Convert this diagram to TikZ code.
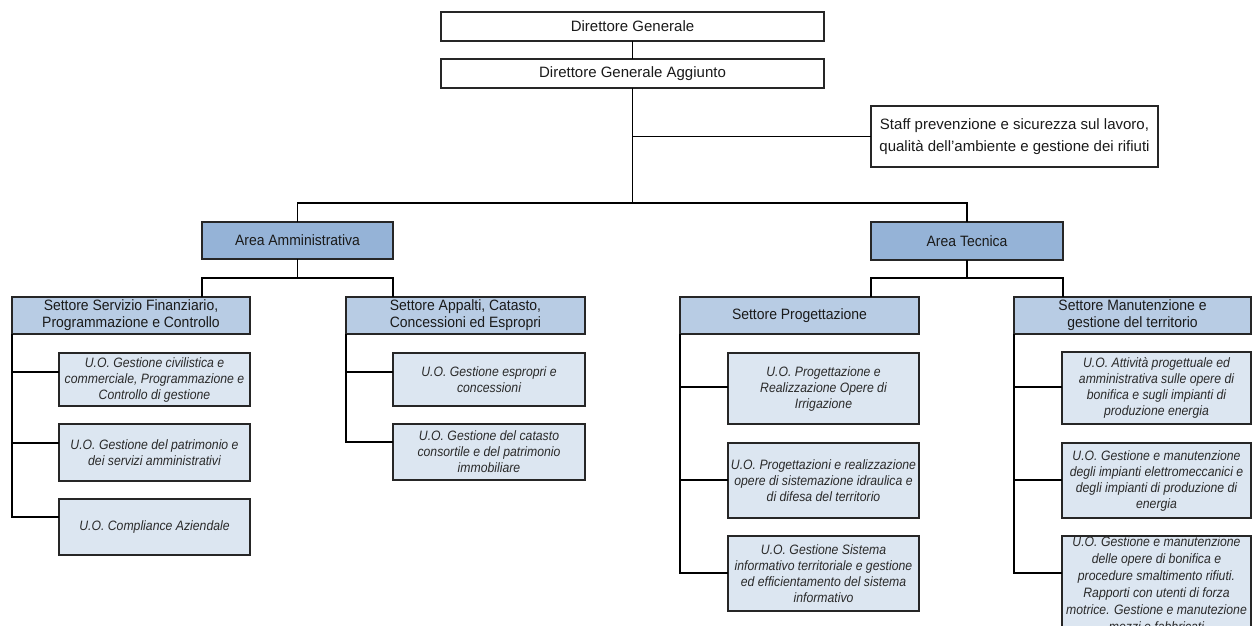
\documentclass[tikz,border=0pt]{standalone}
\usepackage{fontspec}
\setmainfont{Liberation Sans}
\newfontfamily\condA[FakeStretch=0.93]{Liberation Sans}
\newfontfamily\condB[FakeStretch=0.9]{Liberation Sans}
\definecolor{boxline}{HTML}{262626}
\definecolor{areafill}{HTML}{95B3D7}
\definecolor{settfill}{HTML}{B8CCE4}
\definecolor{uofill}{HTML}{DCE6F1}
\definecolor{txt}{HTML}{1A1A1A}
\definecolor{uotxt}{HTML}{2A2A2A}
\tikzset{
  base/.style={draw=boxline, line width=1.5pt, outer sep=0pt, inner sep=0pt, align=center, text=txt},
  topbox/.style={base, fill=white, font=\fontsize{15}{22}\selectfont},
  areabox/.style={base, fill=areafill, font=\condA\fontsize{15}{17}\selectfont},
  settbox/.style={base, fill=settfill, font=\condA\fontsize{15}{17}\selectfont},
  uobox/.style={base, fill=uofill, text=uotxt, font=\condB\fontsize{13.6}{16}\selectfont\itshape},
  conn/.style={draw=black, line width=1.3pt}
}
\newcommand\mybox[7]{%
  \node[#6, minimum width={#4-#2}, minimum height={#5-#3}] (#1) at ({(#2+#4)/2},{(#3+#5)/2}) {#7};}
\begin{document}
\begin{tikzpicture}[x=1pt,y=-1pt]
\useasboundingbox (0,0) rectangle (1253,626);
\clip (0,0) rectangle (1253,626);
% top
\mybox{dg}{441}{12}{824}{41}{topbox}{Direttore Generale}
\mybox{dga}{441}{59}{824}{88}{topbox}{Direttore Generale Aggiunto}
\mybox{staff}{871}{106}{1158}{167}{topbox}{Staff prevenzione e sicurezza sul lavoro,\\qualità dell'ambiente e gestione dei rifiuti}
% areas
\mybox{aa}{202}{222}{393}{259}{areabox}{Area Amministrativa}
\mybox{at}{871}{222}{1063}{260}{areabox}{Area Tecnica}
% settori
\mybox{s1}{12}{297}{250}{334}{settbox}{Settore Servizio Finanziario,\\Programmazione e Controllo}
\mybox{s2}{346}{297}{585}{334}{settbox}{Settore Appalti, Catasto,\\Concessioni ed Espropri}
\mybox{s3}{680}{297}{919}{334}{settbox}{Settore Progettazione}
\mybox{s4}{1014}{297}{1251}{334}{settbox}{Settore Manutenzione e\\gestione del territorio}
% U.O.
\mybox{u11}{59}{353}{250}{406}{uobox}{U.O. Gestione civilistica e\\commerciale, Programmazione e\\Controllo di gestione}
\mybox{u12}{59}{424}{250}{481}{uobox}{U.O. Gestione del patrimonio e\\dei servizi amministrativi}
\mybox{u13}{59}{499}{250}{555}{uobox}{U.O. Compliance Aziendale}
\mybox{u21}{393}{353}{585}{406}{uobox}{U.O. Gestione espropri e\\concessioni}
\mybox{u22}{393}{424}{585}{480}{uobox}{U.O. Gestione del catasto\\consortile e del patrimonio\\immobiliare}
\mybox{u31}{728}{353}{919}{424}{uobox}{U.O. Progettazione e\\Realizzazione Opere di\\Irrigazione}
\mybox{u32}{728}{443}{919}{518}{uobox}{U.O. Progettazioni e realizzazione\\opere di sistemazione idraulica e\\di difesa del territorio}
\mybox{u33}{728}{536}{919}{611}{uobox}{U.O. Gestione Sistema\\informativo territoriale e gestione\\ed efficientamento del sistema\\informativo}
\mybox{u41}{1062}{352}{1251}{424}{uobox}{U.O. Attività progettuale ed\\amministrativa sulle opere di\\bonifica e sugli impianti di\\produzione energia}
\mybox{u42}{1062}{443}{1251}{518}{uobox}{U.O. Gestione e manutenzione\\degli impianti elettromeccanici e\\degli impianti di produzione di\\energia}
\mybox{u43}{1062}{536}{1251}{632}{uobox,font=\condB\fontsize{13.6}{17}\selectfont\itshape}{U.O. Gestione e manutenzione\\delle opere di bonifica e\\procedure smaltimento rifiuti.\\Rapporti con utenti di forza\\motrice. Gestione e manutezione\\mezzi e fabbricati}
% connectors
\coordinate (trunk) at (632.5,203);
\draw[conn] (dg.south) -- (dga.north);
\draw[conn] (dga.south) -- (trunk);
\draw[conn] (dga.south |- staff.west) -- (staff.west);
\draw[conn] (aa.north) |- (trunk) -| (at.north);
\draw[conn] (aa.south) -- ++(0,19) coordinate (aaj);
\draw[conn] (s1.north -| aa.west) |- (aaj) -| (s2.north -| aa.east);
\draw[conn] (at.south) -- ++(0,18) coordinate (atj);
\draw[conn] (s3.north -| at.west) |- (atj) -| (s4.north -| at.east);
% settore -> U.O.
\draw[conn] (s1.south west) |- ([yshift=-19pt]u11.north west);
\draw[conn] (s1.south west) |- ([yshift=-19pt]u12.north west);
\draw[conn] (s1.south west) |- ([yshift=-18pt]u13.north west);
\draw[conn] (s2.south west) |- ([yshift=-19pt]u21.north west);
\draw[conn] (s2.south west) |- ([yshift=-18pt]u22.north west);
\draw[conn] (s3.south west) |- ([yshift=-34pt]u31.north west);
\draw[conn] (s3.south west) |- ([yshift=-37pt]u32.north west);
\draw[conn] (s3.south west) |- ([yshift=-37pt]u33.north west);
\draw[conn] (s4.south west) |- ([yshift=-35pt]u41.north west);
\draw[conn] (s4.south west) |- ([yshift=-37pt]u42.north west);
\draw[conn] (s4.south west) |- ([yshift=-37pt]u43.north west);
\end{tikzpicture}
\end{document}
